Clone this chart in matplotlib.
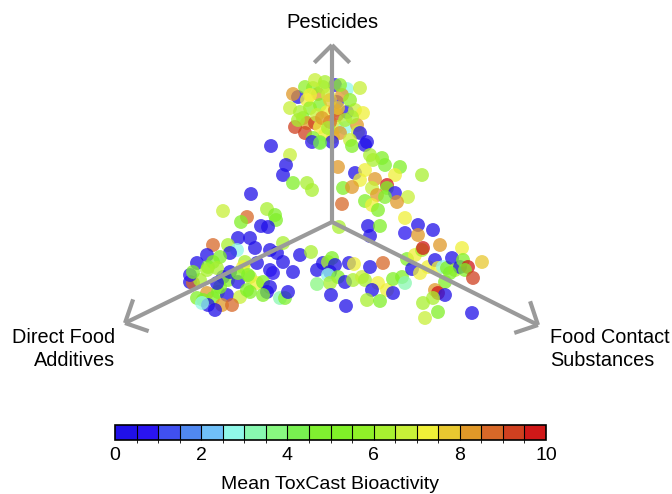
import numpy as np
import matplotlib
matplotlib.use("Agg")
import matplotlib.pyplot as plt
from matplotlib.colors import ListedColormap, BoundaryNorm

plt.rcParams["font.family"] = ["Liberation Sans", "DejaVu Sans"]

# ── data (positions in picture pixels, value = mean ToxCast bioactivity) ──
pest_x = [335, 347, 360, 298, 293, 305, 318, 313, 323, 290, 307, 337, 342, 347, 355,
          363, 320, 327, 337, 335, 310, 303, 307, 315, 295, 305, 320, 325, 337, 345,
          357, 358, 360, 367, 333, 340, 313, 320, 350, 330, 352, 300, 312, 332, 352,
          290, 328, 315, 325, 340, 330, 317, 345, 298, 322, 310, 350, 328, 338]
pest_y = [85, 89, 88, 97, 94, 87, 94, 88, 87, 108, 100, 102, 95, 112, 110,
          113, 105, 112, 115, 110, 108, 118, 123, 123, 127, 133, 127, 135, 127, 128,
          125, 132, 133, 142, 137, 133, 138, 142, 140, 122, 117, 112, 142, 142, 146,
          155, 95, 80, 82, 85, 100, 115, 120, 120, 118, 95, 100, 128, 108]
pest_v = [0.5, 2.7, 6.5, 0.3, 8.3, 5.5, 8.3, 5.8, 6.2, 6.5, 7.0, 0.5, 8.0, 0.3, 6.5,
          7.2, 5.0, 7.0, 9.0, 8.5, 5.5, 5.0, 8.0, 9.0, 9.3, 9.0, 7.0, 7.0, 6.5, 2.5,
          8.0, 6.5, 0.5, 0.3, 7.0, 8.2, 5.0, 5.5, 6.5, 8.5, 6.0, 6.3, 0.5, 0.3, 5.0,
          6.5, 6.8, 6.5, 6.0, 5.5, 7.5, 6.8, 6.3, 6.0, 8.0, 7.2, 5.5, 6.0, 7.8]

mid_x = [365, 370, 382, 385, 373, 400, 395, 422, 338, 355, 365, 360, 375, 343, 352,
         372, 387, 387, 395, 377, 385, 408, 397, 365, 372, 378, 342, 405, 418, 433,
         405, 368, 380, 370, 418, 339,
         271, 286, 283, 293, 307, 312, 251, 223, 267, 275, 276, 247, 241, 261, 268,
         238, 250, 320]
mid_y = [145, 155, 158, 165, 160, 167, 175, 175, 167, 173, 170, 180, 179, 188, 187,
         188, 185, 188, 193, 195, 197, 197, 202, 201, 205, 210, 204, 218, 225, 230,
         233, 226, 226, 236, 235, 227,
         146, 165, 175, 183, 183, 190, 194, 211, 209, 215, 220, 217, 222, 226, 227,
         238, 238, 143]
mid_v = [0.3, 6.3, 5.0, 4.8, 6.0, 5.3, 7.0, 6.3, 8.2, 0.3, 7.2, 7.0, 8.3, 5.0, 8.2,
         6.5, 9.5, 5.0, 0.5, 8.3, 4.8, 6.5, 8.2, 5.2, 7.0, 5.2, 8.8, 7.2, 0.3, 0.3,
         0.5, 0.3, 5.0, 0.3, 8.2, 6.2,
         0.3, 0.3, 0.3, 5.0, 6.3, 6.3, 0.3, 6.5, 6.3, 5.0, 5.0, 8.5, 5.3, 0.3, 0.3,
         0.3, 0.3, 4.0]

dfa_x = [255, 213, 228, 237, 230, 207, 220, 197, 213, 208, 245, 257, 270, 277, 283,
         283, 293, 270, 273, 190, 193, 200, 223, 228, 238, 250, 257, 263, 270, 267,
         207, 218, 227, 240, 197, 203, 213, 222, 232, 208, 215, 263, 280, 285, 288,
         250, 230, 217, 190, 193, 207, 243, 247, 202, 220, 217, 238, 248]
dfa_y = [248, 245, 245, 250, 253, 255, 257, 263, 262, 267, 262, 263, 250, 253, 243,
         262, 272, 270, 273, 282, 283, 280, 277, 280, 282, 277, 283, 282, 287, 292,
         293, 292, 295, 297, 298, 300, 298, 305, 305, 305, 310, 295, 298, 298, 292,
         292, 272, 268, 275, 272, 270, 267, 290, 303, 287, 283, 273, 275]
dfa_v = [0.3, 8.5, 6.3, 2.7, 0.3, 0.3, 5.0, 0.3, 5.0, 5.2, 6.3, 0.3, 0.3, 0.3, 6.3,
         0.3, 0.3, 0.3, 0.5, 0.3, 8.5, 6.0, 0.3, 5.0, 0.3, 6.3, 7.2, 5.0, 0.3, 0.3,
         8.3, 5.0, 0.3, 6.5, 5.0, 5.0, 5.2, 8.3, 8.8, 0.3, 0.3, 5.0, 3.0, 4.5, 0.3,
         5.0, 0.3, 6.0, 0.5, 5.0, 6.3, 7.2, 5.0, 2.8, 5.0, 0.3, 5.0, 5.0]

ctr_x = [300, 311, 317, 323, 328, 332, 335, 330, 328, 338, 345, 330, 317, 349, 354,
         353, 362, 365, 370, 383, 378, 372, 387, 393, 393, 402, 405, 331, 367, 380,
         346]
ctr_y = [255, 252, 270, 263, 262, 258, 265, 272, 275, 277, 282, 283, 284, 263, 264,
         280, 277, 280, 267, 263, 283, 290, 290, 293, 279, 277, 283, 295, 300, 301,
         306]
ctr_v = [0.3, 6.0, 0.3, 0.3, 6.3, 5.0, 0.3, 0.3, 2.5, 5.0, 0.3, 6.3, 3.5, 0.3, 7.2,
         6.3, 6.5, 6.3, 0.3, 8.5, 7.2, 0.3, 7.2, 0.3, 5.0, 5.0, 3.0, 0.3, 6.3, 5.0,
         0.3]

fcs_x = [440, 462, 407, 415, 422, 423, 412, 420, 428, 435, 438, 443, 447, 452, 455,
         460, 463, 468, 465, 450, 445, 473, 482, 435, 438, 445, 433, 423, 438, 425,
         472]
fcs_y = [245, 248, 259, 255, 250, 248, 269, 273, 267, 260, 268, 267, 268, 258, 270,
         267, 260, 267, 270, 273, 282, 278, 262, 290, 293, 295, 298, 303, 312, 318,
         313]
fcs_v = [8.2, 7.2, 5.0, 7.2, 6.3, 9.5, 0.3, 7.2, 7.2, 0.3, 7.2, 2.8, 5.0, 0.3, 6.3,
         0.3, 5.0, 9.5, 5.0, 5.0, 5.0, 9.2, 7.5, 8.3, 9.5, 0.3, 6.3, 6.3, 5.0, 6.5,
         0.3]

bin_colors = ["#2010e8", "#2a14f0", "#4050f0", "#5088f0", "#70c0f8",
              "#90f8e8", "#88f8b0", "#88f880", "#78f050", "#80f030",
              "#80f028", "#90f028", "#a8f030", "#c8f038", "#f0f038",
              "#e8c830", "#e09828", "#d86828", "#d04020", "#d01818"]
cbar_ticks = [0, 2, 4, 6, 8, 10]

center = (332, 222)
arrow_tips = [(332, 45), (125, 323), (538, 325)]
axis_labels = ["Pesticides", "Direct Food\nAdditives", "Food Contact\nSubstances"]

# ── figure ────────────────────────────────────────────────────
fig = plt.figure(figsize=(6.72, 4.94), dpi=100)
ax = fig.add_axes([0, 0, 1, 1])
ax.set_xlim(0, 672)
ax.set_ylim(494, 0)
ax.axis("off")

cmap = ListedColormap(bin_colors)
norm = BoundaryNorm(np.linspace(0, 10, len(bin_colors) + 1), cmap.N)

xs = pest_x + mid_x + dfa_x + ctr_x + fcs_x
ys = pest_y + mid_y + dfa_y + ctr_y + fcs_y
vs = pest_v + mid_v + dfa_v + ctr_v + fcs_v
ax.scatter(xs, ys, c=vs, cmap=cmap, norm=norm, s=100, alpha=0.75,
           edgecolors="none", zorder=2)

# arrows with open chevron heads
grey = "#9a9a9a"
for tx, ty in arrow_tips:
    ax.plot([center[0], tx], [center[1], ty], color=grey, lw=3, zorder=3,
            solid_capstyle="butt")
    d = np.array([center[0] - tx, center[1] - ty], dtype=float)
    d /= np.hypot(*d)
    for ang in (np.pi / 4, -np.pi / 4):
        r = np.array([[np.cos(ang), -np.sin(ang)], [np.sin(ang), np.cos(ang)]])
        e = r @ d * 25
        ax.plot([tx, tx + e[0]], [ty, ty + e[1]], color=grey, lw=3, zorder=3,
                solid_capstyle="butt")

ax.text(332, 22, axis_labels[0], ha="center", va="center", fontsize=14.5)
ax.text(115, 349, axis_labels[1], ha="right", va="center", fontsize=14.3,
        multialignment="right", linespacing=1.25)
ax.text(550, 349, axis_labels[2], ha="left", va="center", fontsize=14.3,
        multialignment="left", linespacing=1.25)

# colorbar
cax = fig.add_axes([115 / 672, 1 - 440 / 494, 431 / 672, 15 / 494])
sm = plt.cm.ScalarMappable(cmap=cmap, norm=norm)
cb = fig.colorbar(sm, cax=cax, orientation="horizontal", drawedges=True,
                  ticks=cbar_ticks)
cb.outline.set_linewidth(1.2)
cb.dividers.set_linewidth(0.8)
cax.tick_params(length=0, labelsize=14, pad=5)
cax.set_xticklabels([str(t) for t in cbar_ticks])
fig.text(330 / 672, 1 - 484 / 494, "Mean ToxCast Bioactivity", ha="center",
         va="center", fontsize=14)

plt.savefig("out.png", dpi=100)
plt.close()
